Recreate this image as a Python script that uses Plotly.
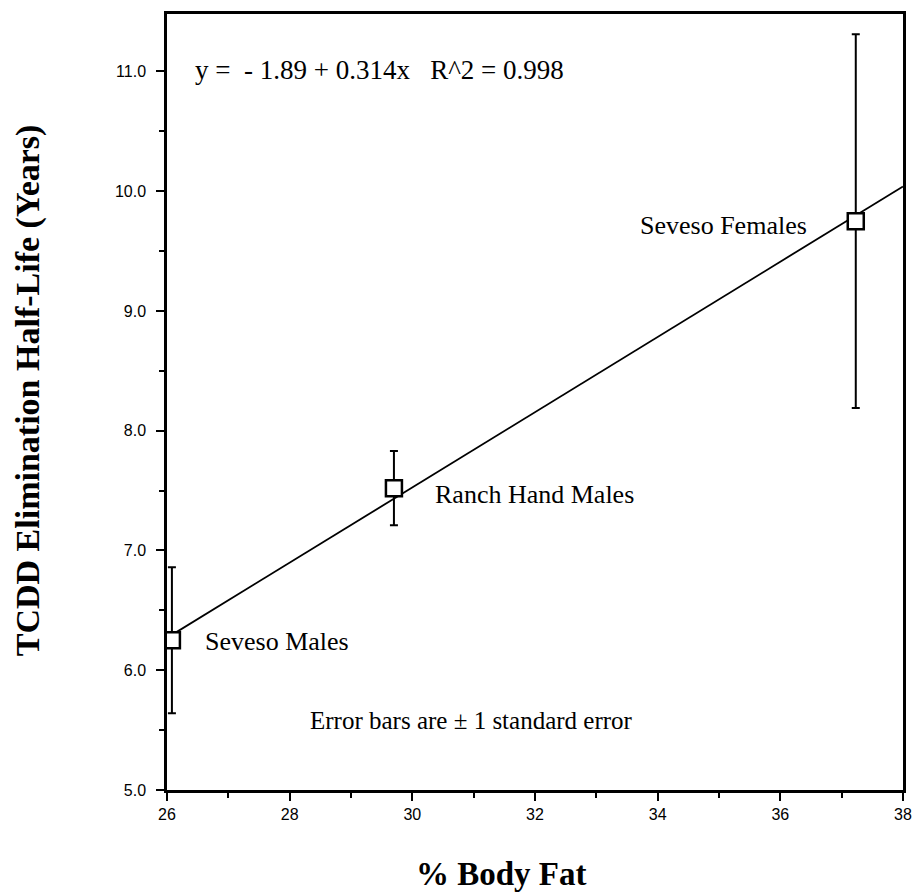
import plotly.graph_objects as go

# Data
groups = ["Seveso Males", "Ranch Hand Males", "Seveso Females"]
body_fat = [26.08, 29.70, 37.23]
half_life = [6.25, 7.52, 9.75]
std_err = [0.61, 0.31, 1.56]

# Regression line endpoints
fit_x = [26.0, 38.0]
fit_y = [6.27, 10.04]

# Label positions (data coords) and anchors
label_x = [26.59, 30.34, 36.47]
label_y = [6.24, 7.47, 9.71]
label_anchor = ["left", "left", "right"]

x_ticks = [26, 28, 30, 32, 34, 36, 38]
y_ticks = [5.0, 6.0, 7.0, 8.0, 9.0, 10.0, 11.0]

SERIF = "Liberation Serif, Times New Roman, serif"
SANS = "Liberation Sans, Arial, sans-serif"

fig = go.Figure()

fig.add_trace(go.Scatter(
    x=fit_x, y=fit_y, mode="lines",
    line=dict(color="black", width=1.8),
    showlegend=False, hoverinfo="skip"))

fig.add_trace(go.Scatter(
    x=body_fat, y=half_life, mode="markers",
    marker=dict(symbol="square", size=16, color="white",
                line=dict(color="black", width=2.5)),
    error_y=dict(type="data", array=std_err, visible=True,
                 color="black", thickness=2, width=4),
    showlegend=False, text=groups))

annotations = []
for t, lx, ly, anc in zip(groups, label_x, label_y, label_anchor):
    annotations.append(dict(x=lx, y=ly, xref="x", yref="y", text=t,
                            showarrow=False, xanchor=anc, yanchor="middle",
                            font=dict(family=SERIF, size=26, color="black")))

annotations.append(dict(x=26.42, y=11.01, xref="x", yref="y",
                        text="y =\u00a0\u00a0- 1.89 + 0.314x\u00a0\u00a0\u00a0R^2 = 0.998",
                        showarrow=False, xanchor="left", yanchor="middle",
                        font=dict(family=SERIF, size=27, color="black")))
annotations.append(dict(x=28.30, y=5.58, xref="x", yref="y",
                        text="Error bars are \u00b1 1 standard error",
                        showarrow=False, xanchor="left", yanchor="middle",
                        font=dict(family=SERIF, size=25, color="black")))
# Axis titles
annotations.append(dict(x=0.454, y=-0.108, xref="paper", yref="paper",
                        text="<b>% Body Fat</b>", showarrow=False,
                        xanchor="center", yanchor="middle",
                        font=dict(family=SERIF, size=33, color="black")))
annotations.append(dict(x=-0.189, y=0.515, xref="paper", yref="paper",
                        text="<b>TCDD Elimination Half-Life (Years)</b>",
                        showarrow=False, textangle=-90,
                        xanchor="center", yanchor="middle",
                        font=dict(family=SERIF, size=34, color="black")))

fig.update_layout(
    width=915, height=893,
    margin=dict(l=167, r=12, t=14, b=103),
    paper_bgcolor="white", plot_bgcolor="white",
    annotations=annotations,
    showlegend=False,
)

fig.update_xaxes(
    range=[26, 38], tickvals=x_ticks, ticktext=[str(v) for v in x_ticks],
    ticks="outside", ticklen=8, tickwidth=2, tickcolor="black",
    minor=dict(dtick=1, ticks="outside", ticklen=5, tickwidth=2, tickcolor="black"),
    showline=True, linecolor="black", linewidth=2.5, mirror=True,
    showgrid=False, zeroline=False, automargin=False,
    tickfont=dict(family=SANS, size=16, color="black"))

fig.update_yaxes(
    range=[5, 11.48], tickvals=y_ticks, ticktext=[f"{v:.1f}" for v in y_ticks],
    ticks="outside", ticklen=8, tickwidth=2, tickcolor="black",
    minor=dict(dtick=0.5, ticks="outside", ticklen=5, tickwidth=2, tickcolor="black"),
    showline=True, linecolor="black", linewidth=2.5, mirror=True,
    showgrid=False, zeroline=False, ticklabelstandoff=7, automargin=False,
    tickfont=dict(family=SANS, size=16, color="black"))

fig.write_html("out.html",
               config={"displayModeBar": False},
               post_script="document.body.style.margin='0';document.body.style.overflow='hidden';")
